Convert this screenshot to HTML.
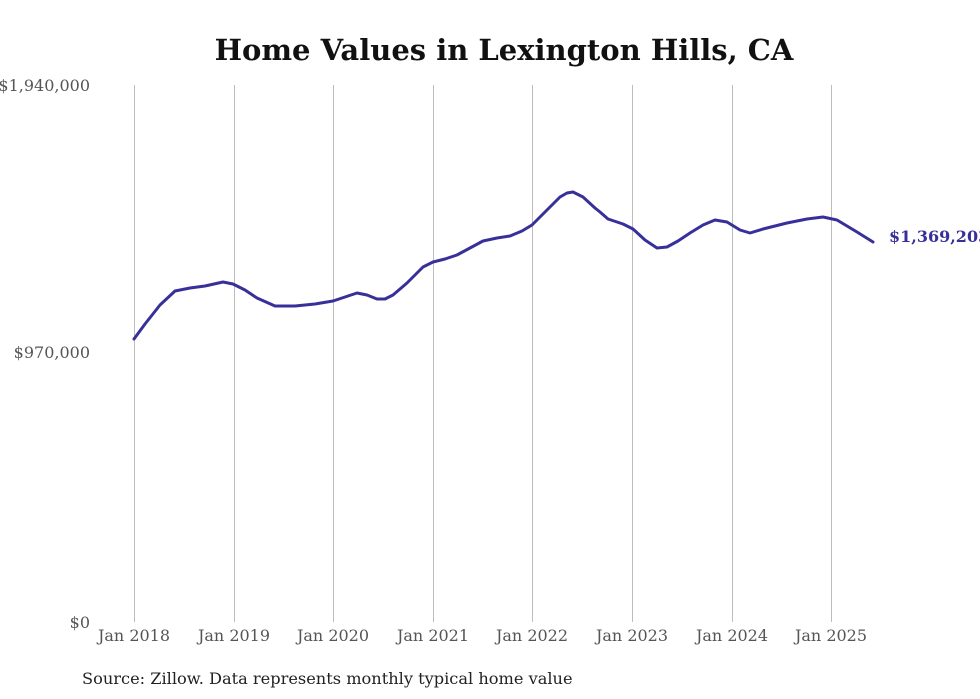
<!DOCTYPE html>
<html><head><meta charset="utf-8"><style>
html,body{margin:0;padding:0;background:#fff;}
svg{display:block;}
.lab{font-family:"DejaVu Serif","Liberation Serif",serif;fill:#555;font-size:16px;}
</style></head><body>
<svg width="980" height="699" viewBox="0 0 980 699" xmlns="http://www.w3.org/2000/svg">
<rect width="980" height="699" fill="#fff"/>
<text x="504" y="60" text-anchor="middle" font-family="DejaVu Serif, Liberation Serif, serif" font-weight="bold" font-size="29" fill="#111">Home Values in Lexington Hills, CA</text>
<g stroke="#bdbdbd" stroke-width="1">
<line x1="134.5" y1="85" x2="134.5" y2="622"/>
<line x1="234.5" y1="85" x2="234.5" y2="622"/>
<line x1="333.5" y1="85" x2="333.5" y2="622"/>
<line x1="433.5" y1="85" x2="433.5" y2="622"/>
<line x1="532.5" y1="85" x2="532.5" y2="622"/>
<line x1="632.5" y1="85" x2="632.5" y2="622"/>
<line x1="732.5" y1="85" x2="732.5" y2="622"/>
<line x1="831.5" y1="85" x2="831.5" y2="622"/>
</g>
<g class="lab" text-anchor="end">
<text x="90" y="91">$1,940,000</text>
<text x="90" y="358">$970,000</text>
<text x="90" y="628">$0</text>
</g>
<g class="lab" text-anchor="middle">
<text x="134" y="641">Jan 2018</text>
<text x="234" y="641">Jan 2019</text>
<text x="333" y="641">Jan 2020</text>
<text x="433" y="641">Jan 2021</text>
<text x="532" y="641">Jan 2022</text>
<text x="632" y="641">Jan 2023</text>
<text x="732" y="641">Jan 2024</text>
<text x="831" y="641">Jan 2025</text>
</g>
<polyline fill="none" stroke="#38309a" stroke-width="3" stroke-linejoin="round" stroke-linecap="round" points="134,339 145,324 160,305 175,291 190,288 205,286 223,282 233,284 245,290 257,298 275,306 295,306 315,304 333,301 345,297 357,293 367,295 377,299 385,299 393,295 407,283 423,267 433,262 445,259 457,255 470,248 483,241 497,238 510,236 522,231 532,225 547,210 560,197 567,193 573,192 583,197 595,208 600,212 608,219 623,224 633,229 645,240 657,248 667,247 678,241 690,233 703,225 715,220 727,222 740,230 750,233 763,229 775,226 787,223 807,219 823,217 837,220 847,226 857,232 873,242"/>
<text x="889" y="242" font-family="DejaVu Serif, Liberation Serif, serif" font-weight="bold" font-size="16" fill="#38309a">$1,369,203</text>
<text x="82" y="684" font-family="DejaVu Serif, Liberation Serif, serif" font-size="16.2" fill="#222">Source: Zillow. Data represents monthly typical home value</text>
</svg>
</body></html>
